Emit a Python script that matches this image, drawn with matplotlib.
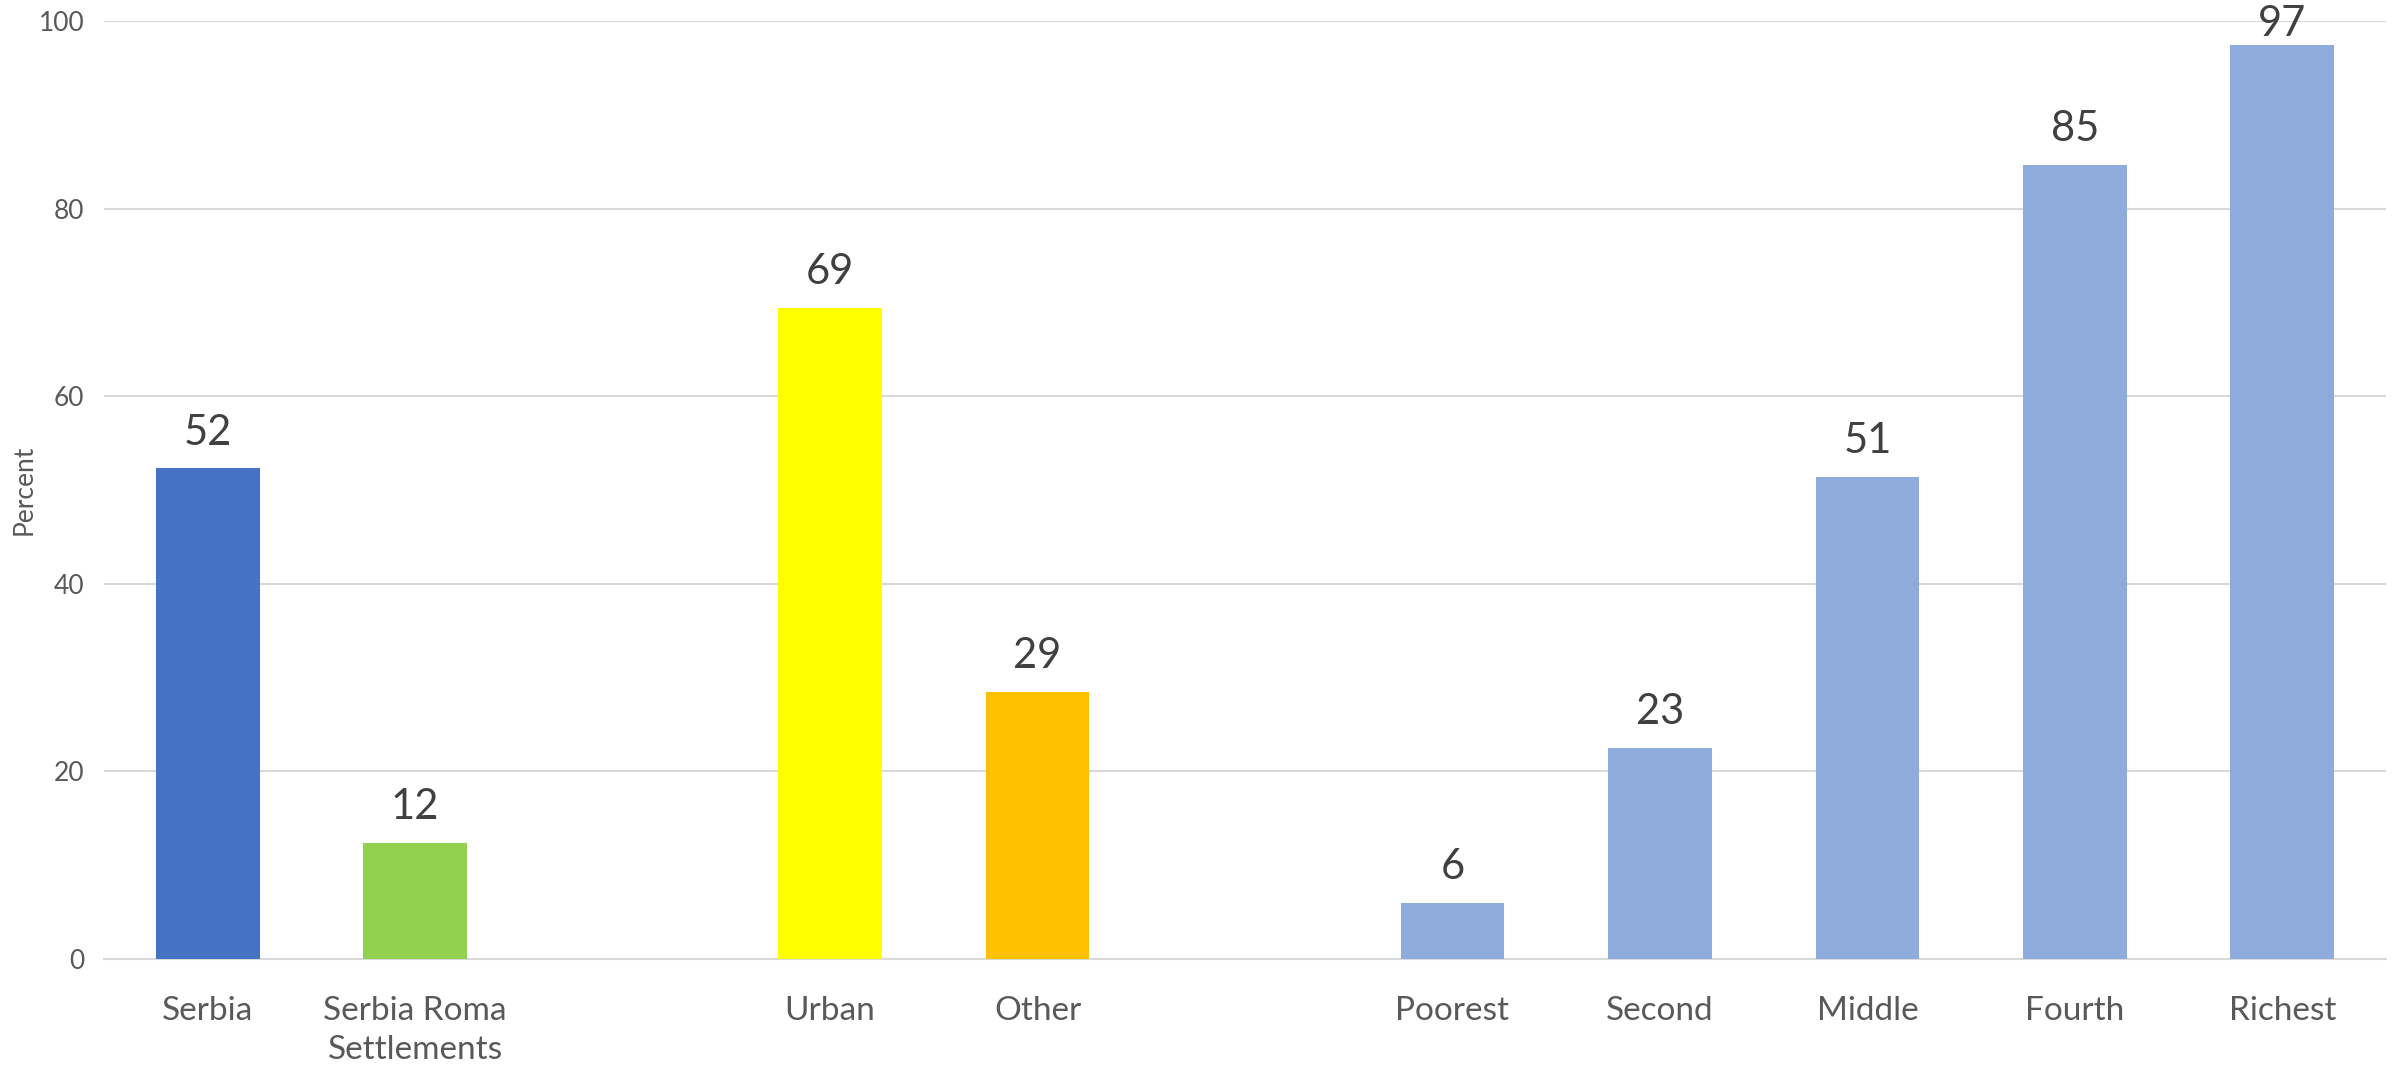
import matplotlib
matplotlib.use("Agg")
import matplotlib.pyplot as plt

categories = ["Serbia", "Serbia Roma\nSettlements", "", "Urban", "Other", "",
              "Poorest", "Second", "Middle", "Fourth", "Richest"]
values = [52.3, 12.4, None, 69.4, 28.5, None, 6.0, 22.5, 51.4, 84.7, 97.4]
labels = ["52", "12", "", "69", "29", "", "6", "23", "51", "85", "97"]
colors = ["#4472C4", "#92D050", None, "#FFFF00", "#FFC000", None,
          "#8FAADC", "#8FAADC", "#8FAADC", "#8FAADC", "#8FAADC"]
yticks = [0, 20, 40, 60, 80, 100]

plt.rcParams['font.family'] = ['Lato', 'DejaVu Sans']

fig = plt.figure(figsize=(23.95, 10.69), dpi=100)
ax = fig.add_axes([104/2395, 1-959/1069, (2386-104)/2395, (959-21)/1069])

xs = list(range(len(categories)))
for x, v, c, lab in zip(xs, values, colors, labels):
    if v is None:
        continue
    ax.bar(x, v, width=0.5, color=c, zorder=3)
    off = 12 if v < 90 else 2
    ax.annotate(lab, (x, v), xytext=(0, off), textcoords="offset points",
                ha="center", va="bottom", fontsize=30, color="#404040",
                annotation_clip=False)

ax.set_xlim(-0.5, len(categories) - 0.5)
ax.set_ylim(0, 100)
ax.set_xticks(xs)
ax.set_xticklabels(categories, fontsize=24, color="#595959", linespacing=1.35)
ax.set_yticks(yticks)
ax.set_yticklabels([str(t) for t in yticks], fontsize=19, color="#595959")
ax.tick_params(axis="x", length=0, pad=27)
ax.tick_params(axis="y", length=0, pad=14)
ax.yaxis.grid(True, color="#D9D9D9", linewidth=1.5, zorder=0)
for s in ["top", "right", "left"]:
    ax.spines[s].set_visible(False)
ax.spines["bottom"].set_color("#D9D9D9")
ax.spines["bottom"].set_linewidth(1.5)
fig.text(24/2395, 1-490/1069, "Percent", rotation=90, ha="center", va="center",
         fontsize=19, color="#595959")

fig.savefig("out.png", dpi=100)
